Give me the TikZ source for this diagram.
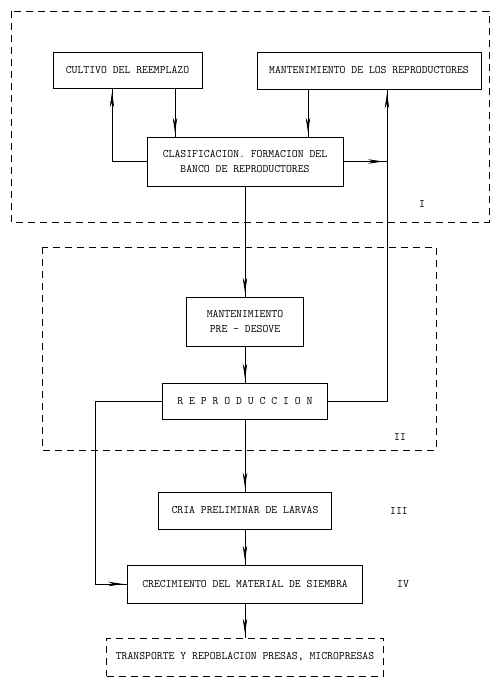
\documentclass[tikz,border=0pt]{standalone}
\usetikzlibrary{arrows.meta,decorations.markings}
\begin{document}
\begin{tikzpicture}[x=1pt,y=-1pt,
  caja/.style = {draw, line width=0.9pt, align=center, inner sep=0pt, font=\ttfamily\fontsize{11.4}{15}\selectfont},
  linea/.style = {line width=0.8pt},
  flecha/.style = {linea, postaction={decorate}, decoration={markings, mark=at position -4pt with {\arrow{Stealth[length=15pt, width=4.5pt]}}}},
  zona/.style = {line width=0.9pt, dash pattern=on 7pt off 5pt},
  etiqueta/.style = {font=\ttfamily\fontsize{11.4}{14}\selectfont}]
\useasboundingbox (0,0) rectangle (500,685);
\draw[zona] (11,11) rectangle (489,222);
\draw[zona] (42,247) rectangle (436,450);
\node[caja, minimum width=149pt, minimum height=36pt] (cultivo) at (127.5,70) {CULTIVO DEL REEMPLAZO};
\node[caja, minimum width=224pt, minimum height=37pt] (reprod) at (369,70.5) {MANTENIMIENTO DE LOS REPRODUCTORES};
\node[caja, minimum width=196pt, minimum height=49pt] (clasif) at (245,161.5) {CLASIFICACION. FORMACION DEL\\BANCO DE REPRODUCTORES};
\node[caja, minimum width=117pt, minimum height=49pt] (predesove) at (245,321.5) {MANTENIMIENTO\\PRE - DESOVE};
\node[caja, minimum width=165pt, minimum height=36pt] (repro) at (245,401) {R E P R O D U C C I O N};
\node[caja, minimum width=173pt, minimum height=37pt] (cria) at (245,510.5) {CRIA PRELIMINAR DE LARVAS};
\node[caja, minimum width=235pt, minimum height=38pt] (crec) at (245,584) {CRECIMIENTO DEL MATERIAL DE SIEMBRA};
\node[caja, zona, minimum width=277pt, minimum height=38pt] (transp) at (245,657) {TRANSPORTE Y REPOBLACION PRESAS, MICROPRESAS};
\node[etiqueta] (zonaI) at (422,204) {I};
\node[etiqueta] (zonaII) at (400,437) {II};
\node[etiqueta] (zonaIII) at (399,511) {III};
\node[etiqueta] (zonaIV) at (403,584) {IV};
\coordinate (cruce) at (387,161.5);
\draw[flecha] ([xshift=47.5pt]cultivo.south) -- ([xshift=-70pt]clasif.north);
\draw[flecha] (clasif.west) -| ([xshift=-15.5pt]cultivo.south);
\draw[flecha] ([xshift=-61pt]reprod.south) -- ([xshift=63pt]clasif.north);
\draw[flecha] (clasif.east) -- (cruce);
\draw[flecha] (repro.east) -| ([xshift=18pt]reprod.south);
\draw[flecha] (clasif.south) -- (predesove.north);
\draw[flecha] (predesove.south) -- (repro.north);
\draw[flecha] (repro.south) -- (cria.north);
\draw[flecha] (cria.south) -- (crec.north);
\draw[flecha] (crec.south) -- (transp.north);
\draw[flecha] (repro.west) -- ++(-66.5pt,0) |- (crec.west);
\end{tikzpicture}
\end{document}
